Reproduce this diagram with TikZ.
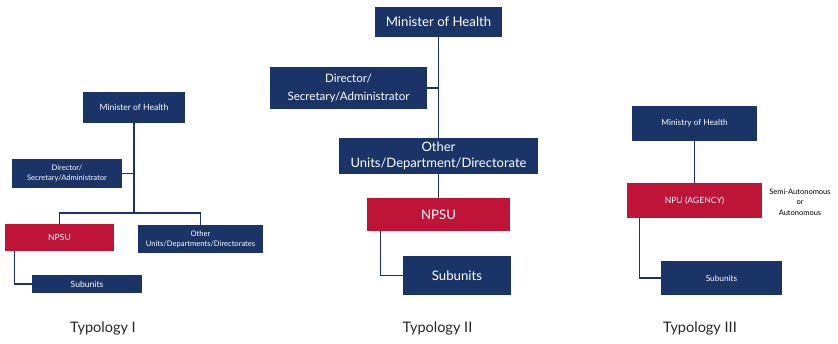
\documentclass[tikz,border=0pt]{standalone}
\usepackage{fontspec}
\setmainfont{Lato}
\usepackage{tikz}

\definecolor{navy}{HTML}{1A3468}
\definecolor{crimson}{HTML}{BE1437}

\tikzset{
	unit/.style={fill=navy, text=white, align=center, inner sep=0pt},
	npsu/.style={unit, fill=crimson},
	link/.style={draw=navy, line width=1.1pt},
	small/.style={font=\fontsize{8.6}{10}\selectfont},
	large/.style={font=\fontsize{13.2}{17}\selectfont},
	caption/.style={font=\fontsize{14.5}{18}\selectfont, text=black!85}
}

\begin{document}
\begin{tikzpicture}[x=1pt, y=-1pt]
		\useasboundingbox (0,0) rectangle (838,343);

		% Typology I
		\node[unit, small, minimum width=102pt, minimum height=31pt] (min1) at (134,107.5) {Minister of Health};
		\node[unit, minimum width=110pt, minimum height=29pt, font=\fontsize{7.6}{9.5}\selectfont] (dir1) at (67,173.5) {Director/\\Secretary/Administrator};
		\node[npsu, small, minimum width=109pt, minimum height=27pt] (npsu1) at (59.5,237.5) {NPSU};
		\node[unit, minimum width=125pt, minimum height=28pt, font=\fontsize{7.6}{9.7}\selectfont] (oth1) at (200.5,239) {Other\\Units/Departments/Directorates};
		\node[unit, small, minimum width=110pt, minimum height=18pt] (sub1) at (87,284) {Subunits};
		\coordinate (j1) at (134,213);

		\draw[link] (min1) -- (j1);
		\draw[link] (dir1.east) -- (dir1.east -| j1);
		\draw[link] (npsu1.north) |- (j1) -| (oth1.north);
		\draw[link] ([xshift=10pt]npsu1.south west) |- (sub1.west);

		% Typology II
		\node[unit, large, minimum width=127pt, minimum height=30pt] (min2) at (438.5,22) {Minister of Health};
		\node[unit, minimum width=157pt, minimum height=42pt, font=\fontsize{11.6}{18}\selectfont] (dir2) at (348.5,88) {Director/\\Secretary/Administrator};
		\node[unit, minimum width=199pt, minimum height=36pt, font=\fontsize{13}{15.5}\selectfont] (oth2) at (438.5,156) {Other\\Units/Department/Directorate};
		\node[npsu, large, minimum width=143pt, minimum height=33pt] (npsu2) at (438.5,214.5) {NPSU};
		\node[unit, large, minimum width=108pt, minimum height=39pt] (sub2) at (457,275.5) {Subunits};

		\draw[link] (min2) -- (oth2);
		\draw[link] (dir2.east) -- (dir2.east -| min2.south);
		\draw[link] (oth2) -- (npsu2);
		\draw[link] ([xshift=14pt]npsu2.south west) |- (sub2.west);

		% Typology III
		\node[unit, minimum width=125pt, minimum height=35pt, font=\fontsize{8.3}{10}\selectfont] (min3) at (694.5,123.5) {Ministry of Health};
		\node[npsu, minimum width=135pt, minimum height=35pt, font=\fontsize{8.6}{10}\selectfont] (npu3) at (694.5,200.5) {NPU (AGENCY)};
		\node[unit, minimum width=121pt, minimum height=34pt, font=\fontsize{8.3}{10}\selectfont] (sub3) at (721.5,278) {Subunits};
		\node[align=center, font=\fontsize{7.5}{10.5}\selectfont] (mode3) at (800,202) {Semi-Autonomous\\or\\Autonomous};

		\draw[link] (min3) -- (npu3);
		\draw[link] ([xshift=13pt]npu3.south west) |- (sub3.west);

		% captions
		\node[caption] (typ1) at (103,328) {Typology I};
		\node[caption] (typ2) at (437.5,328) {Typology II};
		\node[caption] (typ3) at (700,328) {Typology III};
	\end{tikzpicture}
\end{document}
